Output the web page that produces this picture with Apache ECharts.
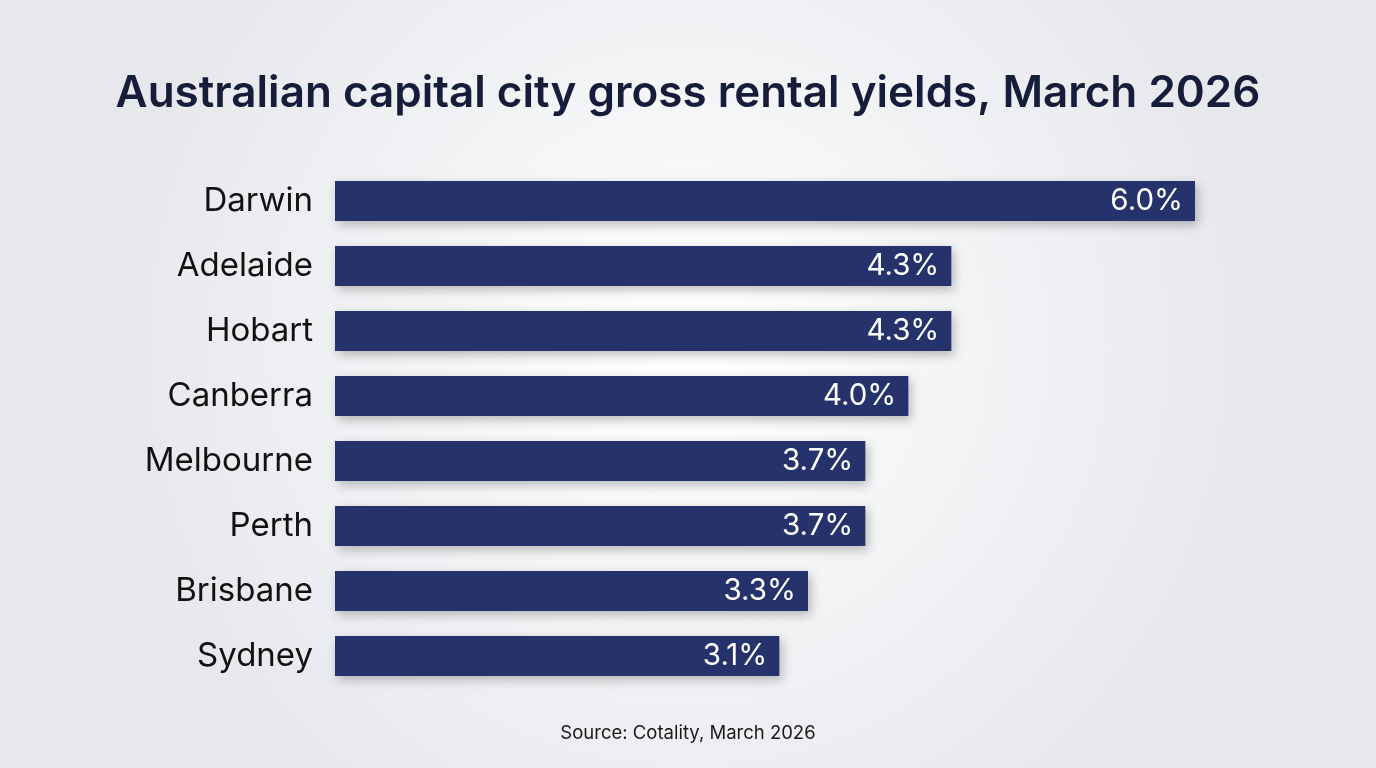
<!DOCTYPE html>
<html><head><meta charset="utf-8">
<script src="https://cdn.jsdelivr.net/npm/echarts@6/dist/echarts.min.js"></script>
<style>html,body{margin:0;padding:0;width:1376px;height:768px;overflow:hidden}#c{width:1376px;height:768px}</style>
</head><body><div id="c"></div>
<script>
const categories = ["Darwin","Adelaide","Hobart","Canberra","Melbourne","Perth","Brisbane","Sydney"];
const yields = [6.0,4.3,4.3,4.0,3.7,3.7,3.3,3.1];
const titleText = "Australian capital city gross rental yields, March 2026";
const sourceText = "Source: Cotality, March 2026";

const chart = echarts.init(document.getElementById('c'));
chart.setOption({
  backgroundColor: {type:'radial', x:0.5, y:0.45, r:0.75, colorStops:[{offset:0,color:'#ffffff'},{offset:1,color:'#e6e8ec'}]},
  animation:false,
  title:[{text:titleText,left:'center',top:67,textStyle:{fontFamily:'Inter',fontWeight:600,fontSize:44,color:'#151d3b'}},
         {text:sourceText,left:'center',top:719,textStyle:{fontFamily:'Inter',fontWeight:400,fontSize:18.5,color:'#1a1a1a'}}],
  grid:{left:335,right:181,top:168.5,bottom:79.5,containLabel:false},
  xAxis:{type:'value',min:0,max:6,show:false},
  yAxis:{type:'category',data:categories,inverse:true,axisLine:{show:false},axisTick:{show:false},
    axisLabel:{fontFamily:'Inter',fontSize:33,color:'#111111',margin:22}},
  series:[{type:'bar',data:yields,barWidth:40,
    itemStyle:{color:'#25326b',shadowColor:'rgba(0,0,0,0.25)',shadowBlur:10,shadowOffsetX:3,shadowOffsetY:4},
    label:{show:true,position:'insideRight',distance:12,color:'#ffffff',fontFamily:'Inter',fontSize:29.5,
      formatter:p=>p.value.toFixed(1)+'%'}}]
});
</script></body></html>
